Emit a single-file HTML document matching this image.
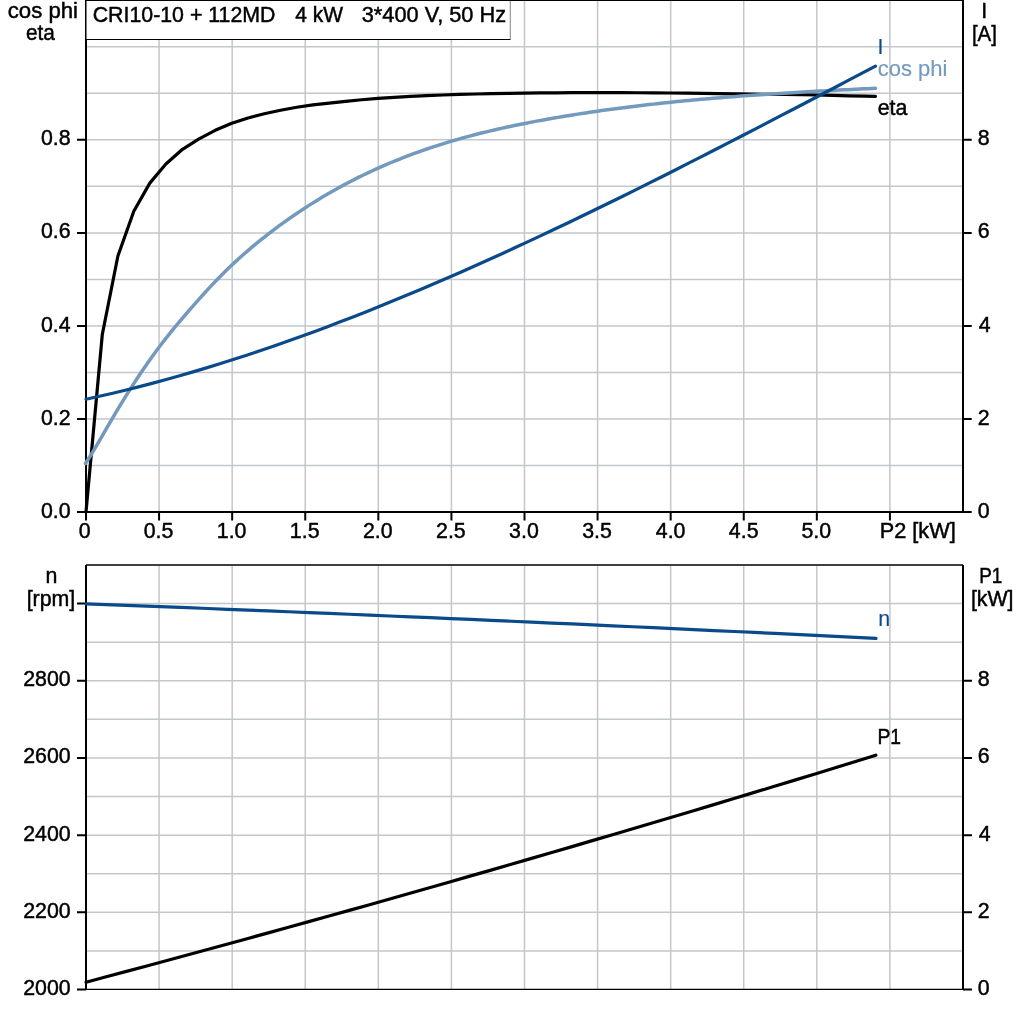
<!DOCTYPE html>
<html><head><meta charset="utf-8"><title>CRI10-10 + 112MD motor curves</title>
<style>html,body{margin:0;padding:0;background:#fff;width:1024px;height:1024px;overflow:hidden}</style>
</head><body>
<svg width="1024" height="1024" viewBox="0 0 1024 1024" style="display:block">
<rect width="1024" height="1024" fill="#fff"/>
<path d="M159.08 1V511 M232.17 1V511 M305.25 1V511 M378.33 1V511 M451.42 1V511 M524.50 1V511 M597.58 1V511 M670.67 1V511 M743.75 1V511 M816.83 1V511 M889.92 1V511 M87 465.48H962 M87 418.96H962 M87 372.44H962 M87 325.92H962 M87 279.40H962 M87 232.88H962 M87 186.36H962 M87 139.84H962 M87 93.32H962 M87 46.80H962 M159.08 566V989 M232.17 566V989 M305.25 566V989 M378.33 566V989 M451.42 566V989 M524.50 566V989 M597.58 566V989 M670.67 566V989 M743.75 566V989 M816.83 566V989 M889.92 566V989 M87 950.91H962 M87 912.32H962 M87 873.73H962 M87 835.14H962 M87 796.55H962 M87 757.96H962 M87 719.37H962 M87 680.78H962 M87 642.19H962 M87 603.60H962" stroke="#c3c7cb" stroke-width="1.5" fill="none"/>
<rect x="86" y="0" width="424" height="39" fill="#fff"/>
<path d="M86 39.5H510.5" stroke="#000" stroke-width="1"/>
<path d="M510.5 0V39" stroke="#a0a0a0" stroke-width="1"/>
<path d="M509.5 1V38.5" stroke="#e2e2e2" stroke-width="1"/>
<path d="M85 0.5H963" stroke="#000" stroke-width="1"/>
<path d="M86 39V513" stroke="#000" stroke-width="2"/>
<path d="M85.75 0V39.5" stroke="#000" stroke-width="1.5"/>
<path d="M963 0V513" stroke="#000" stroke-width="2"/>
<path d="M77 512H964" stroke="#000" stroke-width="2"/>
<path d="M77 512.00H86 M963 512.00H971.7 M77 418.96H86 M963 418.96H971.7 M77 325.92H86 M963 325.92H971.7 M77 232.88H86 M963 232.88H971.7 M77 139.84H86 M963 139.84H971.7 M86.00 512V520.5 M159.08 512V520.5 M232.17 512V520.5 M305.25 512V520.5 M378.33 512V520.5 M451.42 512V520.5 M524.50 512V520.5 M597.58 512V520.5 M670.67 512V520.5 M743.75 512V520.5 M816.83 512V520.5 M889.92 512V520.5" stroke="#000" stroke-width="2" fill="none"/>
<path d="M86 565H963" stroke="#000" stroke-width="1.3"/>
<path d="M86 565V990" stroke="#000" stroke-width="2"/>
<path d="M963 565V990" stroke="#000" stroke-width="2"/>
<path d="M86 989.45H963" stroke="#000" stroke-width="1.2"/>
<path d="M77 989.50H86 M963 989.50H972 M77 912.32H86 M963 912.32H972 M77 835.14H86 M963 835.14H972 M77 757.96H86 M963 757.96H972 M77 680.78H86 M963 680.78H972 M77 603.60H86" stroke="#000" stroke-width="2" fill="none"/>
<polyline points="86.00,512.00 102.30,334.50 117.90,256.00 133.80,211.20 149.80,183.10 165.90,164.00 182.50,149.30 198.60,139.10 215.20,130.30 231.80,123.20 248.04,117.97 264.28,113.81 280.52,110.25 296.76,107.28 313.00,104.91 329.24,103.09 345.48,101.44 361.72,99.75 377.96,98.34 394.20,97.30 410.44,96.39 426.68,95.62 442.92,94.98 459.16,94.47 475.40,94.02 491.64,93.64 507.88,93.33 524.12,93.10 540.36,92.94 556.60,92.79 572.84,92.68 589.08,92.61 605.32,92.61 621.56,92.66 637.80,92.75 654.04,92.87 670.28,93.00 686.52,93.16 702.76,93.38 719.00,93.63 735.24,93.88 751.48,94.10 767.72,94.30 783.96,94.50 800.20,94.72 816.44,94.99 832.68,95.42 848.92,95.89 865.16,96.18 875.50,96.30" fill="none" stroke="#000" stroke-width="3.2" stroke-linejoin="round" stroke-linecap="round"/>
<polyline points="85.50,463.54 89.47,457.31 93.44,450.83 97.41,444.16 101.38,437.35 105.35,430.49 109.32,423.63 113.29,416.85 117.26,410.17 121.23,403.60 125.20,397.16 129.17,390.83 133.14,384.62 137.11,378.53 141.08,372.57 145.05,366.74 149.02,361.04 152.99,355.47 156.96,350.05 160.93,344.76 164.90,339.61 168.87,334.59 172.84,329.67 176.81,324.86 180.78,320.14 184.75,315.49 188.72,310.90 192.69,306.37 196.66,301.88 200.63,297.43 204.60,293.02 208.57,288.68 212.54,284.42 216.51,280.25 220.47,276.17 224.44,272.21 228.41,268.33 232.38,264.56 236.35,260.87 240.32,257.27 244.29,253.75 248.26,250.31 252.23,246.95 256.20,243.66 260.17,240.43 264.14,237.27 268.11,234.17 272.08,231.13 276.05,228.14 280.02,225.21 283.99,222.33 287.96,219.50 291.93,216.73 295.90,214.00 299.87,211.33 303.84,208.71 307.81,206.14 311.78,203.61 315.75,201.14 319.72,198.71 323.69,196.33 327.66,194.00 331.63,191.71 335.60,189.47 339.57,187.27 343.54,185.12 347.51,183.01 351.48,180.94 355.45,178.92 359.42,176.93 363.39,174.99 367.36,173.09 371.33,171.23 375.30,169.41 379.27,167.62 383.24,165.88 387.21,164.17 391.18,162.50 395.15,160.86 399.12,159.26 403.09,157.70 407.06,156.17 411.03,154.67 415.00,153.21 418.97,151.78 422.94,150.38 426.91,149.01 430.88,147.68 434.85,146.37 438.82,145.09 442.79,143.84 446.76,142.62 450.73,141.43 454.70,140.26 458.67,139.12 462.64,138.01 466.61,136.92 470.58,135.85 474.55,134.81 478.52,133.80 482.48,132.80 486.45,131.83 490.42,130.88 494.39,129.95 498.36,129.04 502.33,128.14 506.30,127.27 510.27,126.42 514.24,125.58 518.21,124.76 522.18,123.96 526.15,123.18 530.12,122.40 534.09,121.65 538.06,120.90 542.03,120.18 546.00,119.46 549.97,118.75 553.94,118.06 557.91,117.38 561.88,116.71 565.85,116.05 569.82,115.40 573.79,114.77 577.76,114.14 581.73,113.53 585.70,112.92 589.67,112.33 593.64,111.74 597.61,111.17 601.58,110.60 605.55,110.05 609.52,109.50 613.49,108.97 617.46,108.44 621.43,107.93 625.40,107.42 629.37,106.92 633.34,106.43 637.31,105.95 641.28,105.48 645.25,105.02 649.22,104.56 653.19,104.12 657.16,103.68 661.13,103.25 665.10,102.82 669.07,102.41 673.04,102.00 677.01,101.60 680.98,101.21 684.95,100.83 688.92,100.45 692.89,100.08 696.86,99.71 700.83,99.36 704.80,99.00 708.77,98.66 712.74,98.32 716.71,97.99 720.68,97.66 724.65,97.34 728.62,97.03 732.59,96.72 736.56,96.42 740.53,96.12 744.49,95.83 748.46,95.54 752.43,95.26 756.40,94.98 760.37,94.71 764.34,94.44 768.31,94.18 772.28,93.92 776.25,93.66 780.22,93.41 784.19,93.17 788.16,92.92 792.13,92.68 796.10,92.45 800.07,92.21 804.04,91.99 808.01,91.76 811.98,91.54 815.95,91.32 819.92,91.10 823.89,90.88 827.86,90.67 831.83,90.46 835.80,90.25 839.77,90.05 843.74,89.85 847.71,89.64 851.68,89.44 855.65,89.25 859.62,89.05 863.59,88.85 867.56,88.66 871.53,88.47 875.50,88.27" fill="none" stroke="#7399bd" stroke-width="3.5" stroke-linejoin="round" stroke-linecap="round"/>
<polyline points="86.00,399.23 99.38,396.28 112.76,393.19 126.14,389.96 139.53,386.60 152.91,383.11 166.29,379.49 179.67,375.75 193.05,371.88 206.43,367.89 219.81,363.78 233.19,359.55 246.58,355.21 259.96,350.76 273.34,346.20 286.72,341.53 300.10,336.75 313.48,331.88 326.86,326.90 340.25,321.83 353.63,316.66 367.01,311.40 380.39,306.04 393.77,300.60 407.15,295.08 420.53,289.47 433.92,283.77 447.30,278.01 460.68,272.16 474.06,266.24 487.44,260.25 500.82,254.19 514.20,248.06 527.58,241.87 540.97,235.62 554.35,229.31 567.73,222.94 581.11,216.51 594.49,210.04 607.87,203.51 621.25,196.94 634.64,190.32 648.02,183.66 661.40,176.95 674.78,170.21 688.16,163.44 701.54,156.63 714.92,149.79 728.31,142.92 741.69,136.02 755.07,129.10 768.45,122.16 781.83,115.20 795.21,108.23 808.59,101.24 821.97,94.24 835.36,87.22 848.74,80.20 862.12,73.18 875.50,66.15" fill="none" stroke="#0a4a8a" stroke-width="3.2" stroke-linejoin="round" stroke-linecap="round"/>
<polyline points="86.00,603.78 106.26,604.55 126.51,605.33 146.77,606.11 167.03,606.90 187.28,607.69 207.54,608.49 227.79,609.30 248.05,610.11 268.31,610.93 288.56,611.76 308.82,612.59 329.08,613.43 349.33,614.27 369.59,615.12 389.85,615.98 410.10,616.84 430.36,617.71 450.62,618.59 470.87,619.47 491.13,620.36 511.38,621.25 531.64,622.15 551.90,623.06 572.15,623.97 592.41,624.89 612.67,625.82 632.92,626.75 653.18,627.69 673.44,628.63 693.69,629.58 713.95,630.54 734.21,631.50 754.46,632.47 774.72,633.45 794.97,634.43 815.23,635.42 835.49,636.41 855.74,637.41 876.00,638.42" fill="none" stroke="#0a4a8a" stroke-width="3.2" stroke-linejoin="round" stroke-linecap="round"/>
<polyline points="86.00,982.18 106.25,976.79 126.50,971.37 146.75,965.94 167.01,960.48 187.26,955.00 207.51,949.50 227.76,943.97 248.01,938.43 268.26,932.86 288.51,927.26 308.76,921.65 329.02,916.01 349.27,910.35 369.52,904.67 389.77,898.96 410.02,893.23 430.27,887.48 450.52,881.71 470.77,875.91 491.03,870.09 511.28,864.25 531.53,858.39 551.78,852.50 572.03,846.59 592.28,840.66 612.53,834.71 632.78,828.73 653.04,822.73 673.29,816.71 693.54,810.66 713.79,804.60 734.04,798.51 754.29,792.39 774.54,786.26 794.79,780.10 815.05,773.92 835.30,767.72 855.55,761.50 875.80,755.25" fill="none" stroke="#000" stroke-width="3.2" stroke-linejoin="round" stroke-linecap="round"/>
<g font-family='"Liberation Sans", Arial, sans-serif' font-size="21.33" xml:space="preserve" stroke-width="0.45" paint-order="stroke">
<text x="92.70" y="21.50" fill="#000" stroke="#000">CRI10-10 + 112MD</text>
<text x="295.20" y="21.50" fill="#000" stroke="#000" textLength="47.80" lengthAdjust="spacingAndGlyphs">4 kW</text>
<text x="361.78" y="21.50" fill="#000" stroke="#000" textLength="144.35" lengthAdjust="spacingAndGlyphs">3*400 V, 50 Hz</text>
<text x="7.76" y="17.60" fill="#000" stroke="#000" textLength="70.28" lengthAdjust="spacingAndGlyphs">cos phi</text>
<text x="26.03" y="40.30" fill="#000" stroke="#000" textLength="28.84" lengthAdjust="spacingAndGlyphs">eta</text>
<text x="41.00" y="517.65" fill="#000" stroke="#000">0.0</text>
<text x="977.80" y="517.65" fill="#000" stroke="#000">0</text>
<text x="41.00" y="424.60" fill="#000" stroke="#000">0.2</text>
<text x="977.80" y="424.60" fill="#000" stroke="#000">2</text>
<text x="41.00" y="331.60" fill="#000" stroke="#000">0.4</text>
<text x="978.80" y="331.60" fill="#000" stroke="#000">4</text>
<text x="41.00" y="237.65" fill="#000" stroke="#000">0.6</text>
<text x="977.80" y="237.65" fill="#000" stroke="#000">6</text>
<text x="41.00" y="144.50" fill="#000" stroke="#000">0.8</text>
<text x="977.80" y="144.50" fill="#000" stroke="#000">8</text>
<text x="981.20" y="17.60" fill="#000" stroke="#000">I</text>
<text x="971.94" y="40.60" fill="#000" stroke="#000" textLength="24.99" lengthAdjust="spacingAndGlyphs">[A]</text>
<text x="78.86" y="537.50" fill="#000" stroke="#000">0</text>
<text x="143.68" y="537.50" fill="#000" stroke="#000">0.5</text>
<text x="216.77" y="537.50" fill="#000" stroke="#000">1.0</text>
<text x="289.85" y="537.50" fill="#000" stroke="#000">1.5</text>
<text x="362.93" y="537.50" fill="#000" stroke="#000">2.0</text>
<text x="436.02" y="537.50" fill="#000" stroke="#000">2.5</text>
<text x="509.10" y="537.50" fill="#000" stroke="#000">3.0</text>
<text x="582.18" y="537.50" fill="#000" stroke="#000">3.5</text>
<text x="655.77" y="537.50" fill="#000" stroke="#000">4.0</text>
<text x="728.85" y="537.50" fill="#000" stroke="#000">4.5</text>
<text x="801.43" y="537.50" fill="#000" stroke="#000">5.0</text>
<text x="879.71" y="537.50" fill="#000" stroke="#000" textLength="75.99" lengthAdjust="spacingAndGlyphs">P2 [kW]</text>
<text x="877.50" y="53.50" fill="#0a4a8a" stroke="#0a4a8a" stroke-width="0.15">I</text>
<text x="877.77" y="75.50" fill="#7399bd" stroke="#7399bd" stroke-width="0.15" textLength="69.66" lengthAdjust="spacingAndGlyphs">cos phi</text>
<text x="877.75" y="114.80" fill="#000" stroke="#000">eta</text>
<text x="45.60" y="582.70" fill="#000" stroke="#000">n</text>
<text x="26.70" y="605.50" fill="#000" stroke="#000">[rpm]</text>
<text x="23.20" y="994.80" fill="#000" stroke="#000">2000</text>
<text x="977.80" y="994.80" fill="#000" stroke="#000">0</text>
<text x="23.20" y="917.80" fill="#000" stroke="#000">2200</text>
<text x="977.80" y="917.80" fill="#000" stroke="#000">2</text>
<text x="23.20" y="840.80" fill="#000" stroke="#000">2400</text>
<text x="978.80" y="840.80" fill="#000" stroke="#000">4</text>
<text x="23.20" y="762.70" fill="#000" stroke="#000">2600</text>
<text x="977.80" y="762.70" fill="#000" stroke="#000">6</text>
<text x="23.20" y="685.70" fill="#000" stroke="#000">2800</text>
<text x="977.80" y="685.70" fill="#000" stroke="#000">8</text>
<text x="979.13" y="582.60" fill="#000" stroke="#000" textLength="23.09" lengthAdjust="spacingAndGlyphs">P1</text>
<text x="970.90" y="605.70" fill="#000" stroke="#000">[kW]</text>
<text x="878.30" y="625.60" fill="#0a4a8a" stroke="#0a4a8a" stroke-width="0.15">n</text>
<text x="877.49" y="743.50" fill="#000" stroke="#000" textLength="23.60" lengthAdjust="spacingAndGlyphs">P1</text>
</g>
</svg>
</body></html>
